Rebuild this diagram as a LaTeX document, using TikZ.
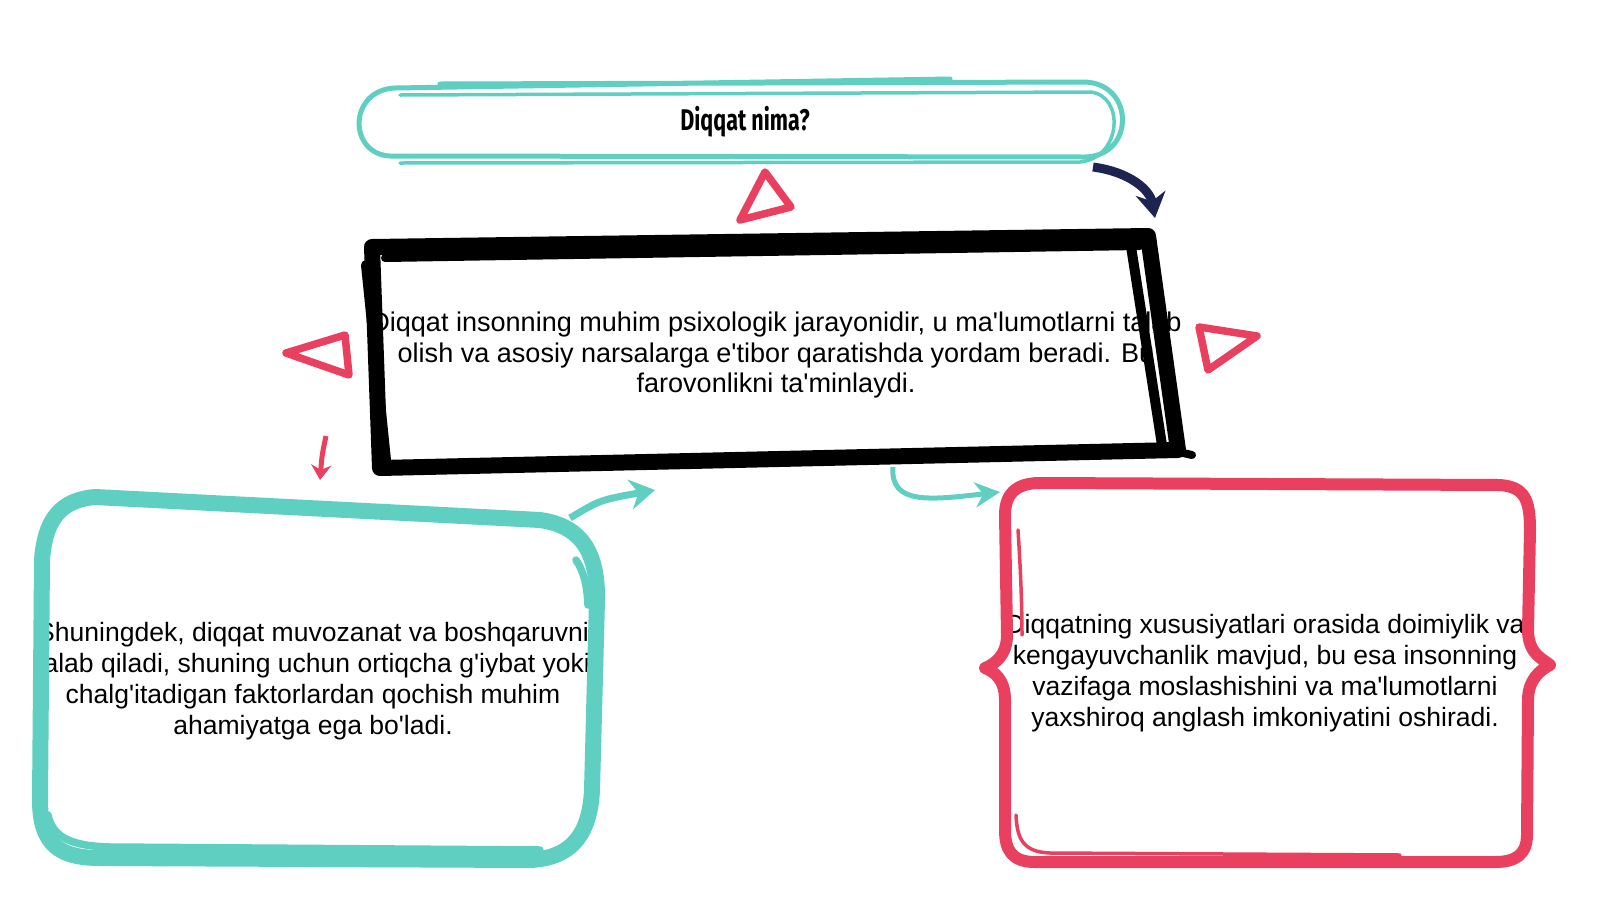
\documentclass[tikz,border=0pt]{standalone}
\usepackage{fontspec}
\setmainfont{Liberation Sans}[Ligatures=TeXOff]
\newfontfamily\titlefont[FakeStretch=0.72]{Fira Sans Bold}
\usetikzlibrary{arrows.meta}
\definecolor{tealc}{RGB}{94,207,193}
\definecolor{redc}{RGB}{232,64,94}
\definecolor{navyc}{RGB}{30,36,82}
\tikzset{
    txt/.style={align=center, font=\fontsize{15.1}{17.6}\selectfont, text=black},
    tri/.style={redc, line width=1.5mm, line join=round},
    tealline/.style={tealc, line cap=round, line join=round},
}

\begin{document}
\begin{tikzpicture}[x=0.02cm, y=-0.02cm]
        \useasboundingbox (0,0) rectangle (1600,900);
        % Texts
        \node [font=\titlefont\fontsize{17}{20}\selectfont] (title) at (745,122) {Diqqat nima?};
        \node [txt, font=\fontsize{15.4}{17.6}\selectfont] (main) at (776,355) {Diqqat insonning muhim psixologik jarayonidir, u ma'lumotlarni talab\\ olish va asosiy narsalarga e'tibor qaratishda yordam beradi. Bu\\ farovonlikni ta'minlaydi.};
        \node [txt] (left) at (313,681) {Shuningdek, diqqat muvozanat va boshqaruvni\\ talab qiladi, shuning uchun ortiqcha g'iybat yoki\\ chalg'itadigan faktorlardan qochish muhim\\ ahamiyatga ega bo'ladi.};
        \node [txt] (right) at (1265,673) {Diqqatning xususiyatlari orasida doimiylik va\\ kengayuvchanlik mavjud, bu esa insonning\\ vazifaga moslashishini va ma'lumotlarni\\ yaxshiroq anglash imkoniyatini oshiradi.};
        % Title frame
        \draw [tealline, line width=1mm] (440,84) -- (1085,82) .. controls (1135,84) and (1135,156) .. (1085,157) -- (390,156) .. controls (348,154) and (348,90) .. (395,88) -- (950,79);
        \draw [tealline, line width=0.7mm] (400,95) -- (1090,92) .. controls (1125,95) and (1122,158) .. (1080,162) -- (400,163);
        % Main frame
        \draw [black, line width=3.2mm, line join=round] (372,247) -- (1148,236) -- (1178,450) -- (380,468) -- cycle;
        \draw [black, line width=2mm, line cap=round] (366,265) -- (386,460);
        \draw [black, line width=2mm, line cap=round] (1130,240) -- (1162,445);
        \draw [black, line width=1.6mm, line cap=round] (385,258) -- (1140,246);
        \draw [black, line width=1.6mm, line cap=round] (1170,450) -- (1192,455);
        % Left frame
        \draw [tealline, line width=3.2mm] (95,497) .. controls (60,500) and (45,520) .. (42,560) -- (40,800) .. controls (40,845) and (60,858) .. (100,858) -- (530,860) .. controls (575,858) and (590,830) .. (592,790) -- (597,600) .. controls (598,545) and (575,525) .. (540,520) -- (95,497);
        \draw [tealline, line width=1.5mm] (48,815) .. controls (53,838) and (72,846) .. (110,847) -- (540,850);
        \draw [tealline, line width=1.5mm] (576,560) .. controls (584,572) and (587,585) .. (588,605);
        % Right frame
        \draw [redc, line width=2.4mm, line join=round] (1040,483) -- (1500,485) .. controls (1525,487) and (1530,500) .. (1530,530) -- (1528,630) .. controls (1528,655) and (1545,660) .. (1550,665) .. controls (1540,670) and (1528,680) .. (1528,700) -- (1527,835) .. controls (1527,855) and (1515,862) .. (1495,862) -- (1035,862) .. controls (1012,862) and (1005,850) .. (1005,830) -- (1005,700) .. controls (1005,680) and (995,672) .. (985,668) .. controls (995,664) and (1007,655) .. (1007,635) -- (1005,515) .. controls (1005,495) and (1015,483) .. (1040,483) -- cycle;
        \draw [redc, line width=0.7mm, line cap=round] (1018,530) .. controls (1020,560) and (1022,600) .. (1022,635);
        \draw [redc, line width=0.7mm, line cap=round] (1016,815) .. controls (1017,840) and (1024,852) .. (1050,853) -- (1400,855);
        % Triangles
        \draw [tri] (765,172) -- (740,220) -- (791,207) -- cycle;
        \draw [tri] (286,353) -- (345,335) -- (349,375) -- cycle;
        \draw [tri] (1199,327) -- (1257,336) -- (1208,370) -- cycle;
        % Arrows
        \coordinate (n1) at (1093,167);
        \coordinate (n2) at (1155,218);
        \draw [navyc, line width=1.8mm, -{Stealth[length=5mm, width=6mm]}] (n1) .. controls (1130,172) and (1150,190) .. (n2);
        \coordinate (r1) at (326,436);
        \coordinate (r2) at (320,480);
        \draw [redc, line width=1mm, -{Stealth[length=3mm, width=4mm]}] (r1) .. controls (322,455) .. (r2);
        \coordinate (t1) at (570,518);
        \coordinate (t2) at (655,490);
        \draw [tealc, line width=1.4mm, -{Stealth[length=5mm, width=6mm]}] (t1) .. controls (600,500) .. (t2);
        \coordinate (t3) at (893,467);
        \coordinate (t4) at (1000,492);
        \draw [tealc, line width=1mm, -{Stealth[length=5mm, width=5mm]}] (t3) .. controls (890,505) and (930,500) .. (t4);
    \end{tikzpicture}
\end{document}
